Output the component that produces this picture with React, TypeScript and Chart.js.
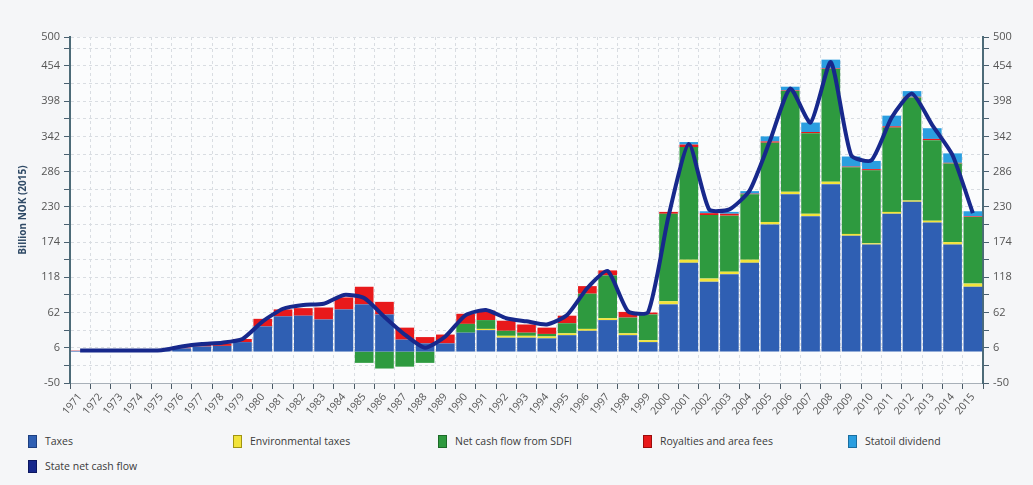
import React, { useEffect, useRef } from 'react';
import { Chart, registerables } from 'chart.js';

Chart.register(...registerables);

const years = [
  '1971', '1972', '1973', '1974', '1975', '1976', '1977', '1978', '1979', '1980',
  '1981', '1982', '1983', '1984', '1985', '1986', '1987', '1988', '1989', '1990',
  '1991', '1992', '1993', '1994', '1995', '1996', '1997', '1998', '1999', '2000',
  '2001', '2002', '2003', '2004', '2005', '2006', '2007', '2008', '2009', '2010',
  '2011', '2012', '2013', '2014', '2015',
];

const taxes = [
  1, 1, 1, 1.2, 1.5, 5, 8, 9, 15, 40,
  56, 57, 51, 67, 75, 59, 19, 13, 13, 30,
  34, 22, 22, 21, 26, 33, 50, 26, 15, 75,
  141, 111, 123, 141, 202, 250, 215, 266, 184, 170,
  219, 238, 205, 170, 103,
];

const environmentalTaxes = [
  0, 0, 0, 0, 0, 0, 0, 0, 0, 0,
  0, 0, 0, 0, 0, 0, 0, 0, 0, 0,
  2, 3, 3, 3, 3, 3, 3, 3, 3, 5,
  5, 5, 4, 5, 4, 4, 4, 4, 3, 2,
  3, 2, 3, 4, 5,
];

const sdfiNetCashFlow = [
  0, 0, 0, 0, 0, 0, 0, 0, 0, 0,
  0, 0, 0, 0, -18, -27, -24, -18, 0, 14,
  14, 8, 5, 4, 16, 56, 68, 25, 41, 139,
  179, 101, 89, 104, 126, 160, 128, 179, 106, 116,
  134, 164, 128, 125, 106,
];

const royaltiesAreaFees = [
  0.5, 0.5, 0.5, 0.5, 0.6, 1.5, 3, 4, 5, 12,
  11, 12, 19, 19, 28, 20, 19, 10, 14, 16,
  15, 16, 13, 10, 12, 12, 8, 9, 3, 3,
  4, 3, 3, 1, 2, 1, 2, 1, 1, 2,
  2, 1, 2, 1, 1,
];

const statoilDividend = [
  0, 0, 0, 0, 0, 0, 0, 0, 0, 0,
  0, 0, 0, 0, 0, 0, 0, 0, 0, 0,
  0, 0, 0, 0, 0, 0, 0, 0, 0, 0,
  4, 3, 3, 4, 8, 6, 15, 14, 16, 13,
  17, 9, 17, 15, 8,
];

const stateNetCashFlow = [
  1.5, 1.5, 1.5, 1.7, 2, 8, 12, 14, 20, 48,
  68, 74, 76, 90, 85, 55, 27, 6, 24, 58,
  66, 53, 48, 43, 58, 101, 128, 64, 63, 215,
  330, 226, 226, 256, 335, 418, 364, 460, 312, 304,
  372, 410, 360, 312, 220,
];

const yTickValues = [
  -50, -22, 6, 34, 62, 90, 118, 146, 174, 202, 230,
  258, 286, 314, 342, 370, 398, 426, 454, 482, 500,
];
const yTickLabels = [-50, 6, 62, 118, 174, 230, 286, 342, 398, 454, 500];

const seriesNames = [
  'Taxes',
  'Environmental taxes',
  'Net cash flow from SDFI',
  'Royalties and area fees',
  'Statoil dividend',
  'State net cash flow',
];
const seriesColors = ['#2f5fb3', '#f2e33a', '#2e9a3f', '#e8191b', '#2a9ee0', '#17288c'];
const seriesBorders = ['#1d3f80', '#a09412', '#1c6a28', '#9c0c0c', '#1a6ea0', '#0c1760'];

const FONT = "'Open Sans', 'DejaVu Sans', sans-serif";

const areaBg = {
  id: 'areaBg',
  beforeDraw(chart: any) {
    const { ctx, chartArea } = chart;
    if (!chartArea) return;
    ctx.save();
    ctx.fillStyle = '#fbfcfd';
    ctx.fillRect(chartArea.left, chartArea.top, chartArea.right - chartArea.left, chartArea.bottom - chartArea.top);
    ctx.restore();
  },
};

export default function App() {
  const canvasRef = useRef<HTMLCanvasElement | null>(null);

  useEffect(() => {
    if (!canvasRef.current) return;
    const barSeries = [taxes, environmentalTaxes, sdfiNetCashFlow, royaltiesAreaFees, statoilDividend];
    const datasets: any[] = barSeries.map((d, i) => ({
      type: 'bar',
      label: seriesNames[i],
      data: d,
      backgroundColor: seriesColors[i],
      borderWidth: 0,
      stack: 'main',
      order: 2,
      barPercentage: 0.92,
      categoryPercentage: 1,
      yAxisID: 'y',
    }));
    datasets.push({
      type: 'line',
      label: seriesNames[5],
      data: stateNetCashFlow,
      borderColor: seriesColors[5],
      backgroundColor: seriesColors[5],
      borderWidth: 4,
      pointRadius: 0,
      tension: 0.2,
      stack: 'net',
      order: 0,
      yAxisID: 'y',
    });

    const setTicks = (scale: any) => {
      scale.ticks = yTickValues.map((v) => ({ value: v }));
    };

    const chart = new Chart(canvasRef.current, {
      type: 'bar',
      data: { labels: years, datasets },
      plugins: [areaBg],
      options: {
        animation: false,
        responsive: false,
        maintainAspectRatio: false,
        layout: { padding: { top: 37, left: 0, right: 0, bottom: 0 } },
        plugins: {
          legend: { display: false },
          tooltip: { enabled: false },
        },
        scales: {
          x: {
            stacked: true,
            afterFit: (s: any) => { s.height = 42; },
            grid: {
              color: '#d9dde2',
              offset: true,
              tickColor: '#4a5a66',
              tickLength: 6,
              tickWidth: 1,
            },
            border: { color: '#a8b0b8', width: 1, dash: [3, 3] },
            ticks: {
              autoSkip: false,
              minRotation: 50,
              maxRotation: 50,
              padding: 2,
              color: '#555',
              font: { family: FONT, size: 10.5 },
            },
          },
          y: {
            stacked: true,
            min: -50,
            max: 500,
            afterBuildTicks: setTicks,
            afterFit: (s: any) => { s.width = 70; },
            grid: {
              color: '#d9dde2',
              tickColor: '#4a6070',
              tickLength: 6,
            },
            border: { color: '#4d6b78', width: 2, dash: [3, 3] },
            ticks: {
              padding: 4,
              color: '#555',
              font: { family: FONT, size: 11 },
              callback: (v: any) => (yTickLabels.includes(Number(v)) ? String(v) : ''),
            },
            title: {
              display: true,
              text: 'Billion NOK (2015)',
              color: '#2f4a66',
              font: { family: FONT, size: 10, weight: 'bold' },
              padding: { top: 17, bottom: 0 },
            },
          },
          y2: {
            position: 'right',
            min: -50,
            max: 500,
            afterBuildTicks: setTicks,
            afterFit: (s: any) => { s.width = 50; },
            grid: {
              drawOnChartArea: false,
              tickColor: '#4a6070',
              tickLength: 6,
            },
            border: { color: '#4d6b78', width: 2 },
            ticks: {
              padding: 4,
              color: '#555',
              font: { family: FONT, size: 11 },
              callback: (v: any) => (yTickLabels.includes(Number(v)) ? String(v) : ''),
            },
          },
        },
      } as any,
    });
    return () => chart.destroy();
  }, []);

  const legendItem = (i: number, left: number, top: number) => (
    <div
      key={i}
      style={{
        position: 'absolute',
        left,
        top,
        display: 'flex',
        alignItems: 'center',
        fontFamily: FONT,
        fontSize: 10.5,
        color: '#3a3a3a',
        whiteSpace: 'nowrap',
      }}
    >
      <span
        style={{
          display: 'inline-block',
          width: 7,
          height: 11,
          background: seriesColors[i],
          border: `1px solid ${seriesBorders[i]}`,
          marginRight: 8,
        }}
      />
      {seriesNames[i]}
    </div>
  );

  return (
    <div style={{ position: 'fixed', left: 0, top: 0, width: 1033, height: 485, background: '#f5f6f8', overflow: 'hidden' }}>
      <canvas
        ref={canvasRef}
        width={1033}
        height={425}
        style={{ position: 'absolute', left: 0, top: 0, width: 1033, height: 425 }}
      />
      {[0, 1, 2, 3, 4].map((i) => legendItem(i, 28 + 205 * i, 434))}
      {legendItem(5, 28, 459)}
    </div>
  );
}
